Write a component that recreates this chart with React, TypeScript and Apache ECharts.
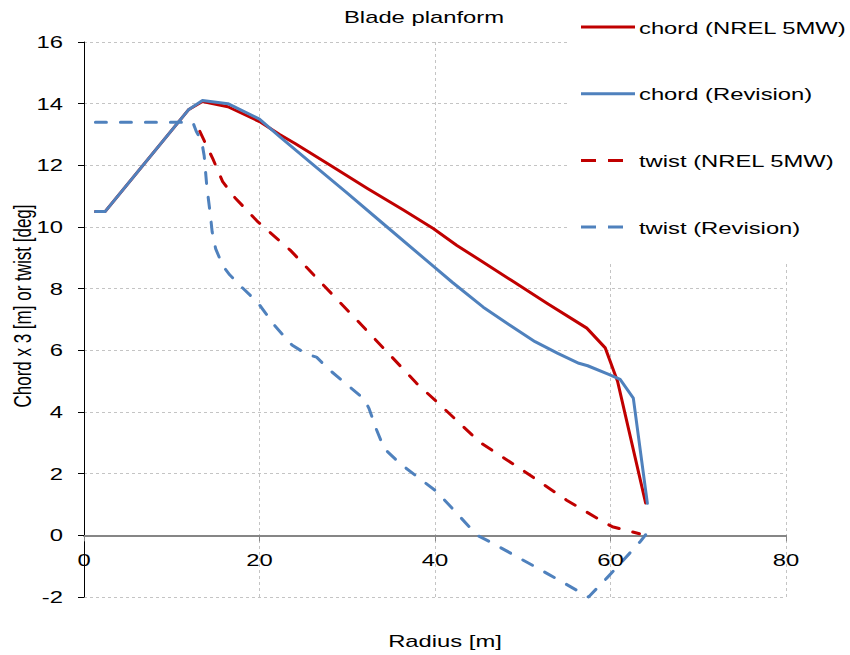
import React, { useEffect, useRef } from "react";
import * as echarts from "echarts";

// Blade planform: chord (scaled x3) and twist along the blade radius
const chordNrel: [number, number][] = [
  [1.3, 10.5], [2.4, 10.5], [11.9, 13.8], [13.5, 14.07], [16.4, 13.9], [20.0, 13.42],
  [22.3, 13.0], [24.1, 12.7], [28.2, 11.98], [32.3, 11.25], [36.4, 10.55], [39.8, 9.95],
  [42.5, 9.4], [45.1, 8.93], [48.7, 8.27], [52.8, 7.52], [57.3, 6.72], [59.4, 6.08],
  [60.8, 5.0], [64.0, 1.05],
];

const chordRevision: [number, number][] = [
  [1.3, 10.5], [2.4, 10.5], [11.9, 13.8], [13.5, 14.1], [16.4, 14.0], [20.0, 13.5],
  [22.3, 12.93], [26.0, 12.05], [30.0, 11.1], [34.0, 10.13], [39.8, 8.73], [42.0, 8.2],
  [45.5, 7.4], [48.5, 6.82], [51.4, 6.28], [54.0, 5.9], [56.4, 5.58], [57.4, 5.5],
  [59.8, 5.22], [61.1, 5.06], [62.6, 4.45], [64.2, 1.04],
];

const twistNrel: [number, number][] = [
  [13.2, 13.1], [14.7, 12.2], [15.8, 11.47], [17.2, 10.95], [19.7, 10.2], [23.5, 9.25],
  [27.3, 8.11], [31.1, 6.98], [34.9, 5.84], [37.9, 4.93], [40.4, 4.28], [45.1, 3.02],
  [50.0, 2.11], [55.0, 1.14], [59.4, 0.4], [60.2, 0.28], [63.3, 0.05],
];

const twistRevision: [number, number][] = [
  [1.3, 13.4], [12.4, 13.4], [12.8, 13.1], [13.4, 12.8], [13.7, 12.3], [14.0, 11.3],
  [14.4, 10.4], [14.6, 9.85], [15.0, 9.3], [15.8, 8.75], [16.6, 8.45], [17.8, 8.1],
  [19.8, 7.55], [21.8, 6.78], [23.7, 6.17], [25.4, 5.87], [26.5, 5.78], [28.0, 5.36],
  [30.3, 4.81], [32.0, 4.4], [32.5, 4.1], [33.3, 3.45], [34.2, 2.82], [36.0, 2.33],
  [40.0, 1.46], [41.1, 1.14], [44.8, 0.0], [46.6, -0.26], [52.8, -1.24], [57.5, -2.0],
  [59.6, -1.38], [61.1, -0.92], [63.4, -0.2], [64.0, 0.02],
];

const xTicks = [0, 20, 40, 60, 80];
const yTicks = [-2, 0, 2, 4, 6, 8, 10, 12, 14, 16];

const seriesNames = ["chord (NREL 5MW)", "chord (Revision)", "twist (NREL 5MW)", "twist (Revision)"];
const RED = "#C00000";
const BLUE = "#4F81BD";
const DASH = [11, 14];

const FONT = "'Liberation Sans', Arial, sans-serif";
const WIDE = 1.4; // horizontally widened lettering

export default function App() {
  const ref = useRef<HTMLDivElement>(null);

  useEffect(() => {
    document.body.style.margin = "0";
    const chart = echarts.init(ref.current!, null, { renderer: "svg" });

    const lineSeries = (name: string, data: [number, number][], color: string, dashed: boolean) => ({
      name,
      type: "line",
      data,
      symbol: "none",
      showSymbol: false,
      clip: false,
      lineStyle: { color, width: 3, type: dashed ? DASH : "solid", cap: "round", join: "round" },
      emphasis: { disabled: true },
    });

    chart.setOption({
      animation: false,
      grid: { left: 84, right: 64, top: 42, bottom: 58, containLabel: false, outerBoundsMode: "none" },
      xAxis: {
        type: "value",
        min: 0,
        max: 80,
        interval: 20,
        axisLine: { show: true, onZero: true, lineStyle: { color: "#868686", width: 2 } },
        axisTick: { show: true, length: 6, lineStyle: { color: "#868686", width: 1 } },
        axisLabel: { show: false },
        splitLine: { show: true, lineStyle: { color: "#c4c4c4", width: 1, type: [3, 3] } },
      },
      yAxis: {
        type: "value",
        min: -2,
        max: 16,
        interval: 2,
        axisLine: { show: true, onZero: false, lineStyle: { color: "#000", width: 1 } },
        axisTick: { show: true, length: 6, lineStyle: { color: "#000", width: 1 } },
        axisLabel: { show: false },
        splitLine: { show: true, lineStyle: { color: "#c4c4c4", width: 1, type: [3, 3] } },
      },
      series: [
        lineSeries(seriesNames[0], chordNrel, RED, false),
        lineSeries(seriesNames[1], chordRevision, BLUE, false),
        lineSeries(seriesNames[2], twistNrel, RED, true),
        lineSeries(seriesNames[3], twistRevision, BLUE, true),
      ],
    });

    const text = (t: string, x: number, y: number, align: string, extra: any = {}) => ({
      type: "text",
      x,
      y,
      scaleX: WIDE,
      z: 20,
      style: { text: t, fontSize: 17, fontFamily: FONT, fill: "#000", align, verticalAlign: "middle" },
      ...extra,
    });

    const graphics: any[] = [];
    // white legend panel over the top-right of the plot
    graphics.push({
      type: "rect",
      shape: { x: 567, y: 0, width: 283, height: 261 },
      style: { fill: "#fff" },
      z: 10,
    });

    // tick labels placed at the axis positions
    yTicks.forEach((v) => {
      const p = chart.convertToPixel({ gridIndex: 0 }, [0, v]) as number[];
      graphics.push(text(String(v), 63, p[1], "right"));
    });
    xTicks.forEach((v) => {
      const p = chart.convertToPixel({ gridIndex: 0 }, [v, 0]) as number[];
      graphics.push(text(String(v), p[0], 560, "center"));
    });

    // title and axis names
    graphics.push(text("Blade planform", 424, 17, "center"));
    graphics.push(text("Radius [m]", 445, 641, "center"));
    graphics.push({
      type: "text",
      x: 22,
      y: 306,
      rotation: Math.PI / 2,
      scaleY: WIDE,
      z: 20,
      style: {
        text: "Chord x 3 [m] or twist [deg]",
        fontSize: 17,
        fontFamily: FONT,
        fill: "#000",
        align: "center",
        verticalAlign: "middle",
      },
    });

    // legend entries
    const legendColors = [RED, BLUE, RED, BLUE];
    const legendDashed = [false, false, true, true];
    seriesNames.forEach((name, i) => {
      const y = 27 + i * 66.7;
      graphics.push({
        type: "line",
        shape: { x1: 581, y1: y, x2: 635, y2: y },
        style: {
          stroke: legendColors[i],
          lineWidth: 3,
          lineDash: legendDashed[i] ? [15, 12] : null,
        },
        z: 20,
      });
      graphics.push(text(name, 639, y + 0.5, "left"));
    });

    chart.setOption({ graphic: graphics });

    return () => chart.dispose();
  }, []);

  return <div ref={ref} style={{ width: 850, height: 655 }} />;
}
